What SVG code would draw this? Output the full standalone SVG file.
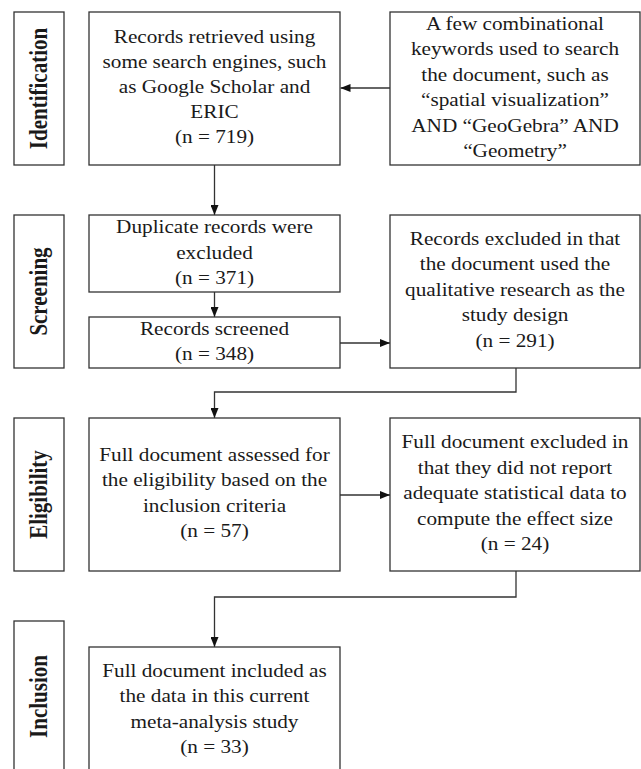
<svg xmlns="http://www.w3.org/2000/svg" width="641" height="769" viewBox="0 0 641 769">
<style>
.box{fill:#fff;stroke:#333;stroke-width:1.3}
.t{font-family:"Liberation Serif","Times New Roman",serif;font-size:18px;fill:#1a1a1a;text-anchor:middle}
.lbl{font-family:"Liberation Serif","Times New Roman",serif;font-size:21px;font-weight:bold;fill:#1a1a1a;text-anchor:middle}
.c{fill:none;stroke:#333;stroke-width:1.3}
</style>
<defs>
<marker id="ah" markerUnits="userSpaceOnUse" markerWidth="10" markerHeight="8" refX="10" refY="4" orient="auto">
<path d="M0,0 L10,4 L0,8 z" fill="#111"/>
</marker>
</defs>
<rect width="641" height="769" fill="#fff"/>
<g id="connectors">
<path class="c" d="M214.5,165 V215" marker-end="url(#ah)"/>
<path class="c" d="M390,88 H340.5" marker-end="url(#ah)"/>
<path class="c" d="M214.5,292 V317" marker-end="url(#ah)"/>
<path class="c" d="M340,343 H390" marker-end="url(#ah)"/>
<path class="c" d="M516,368 V392 H214.5 V418" marker-end="url(#ah)"/>
<path class="c" d="M340,495 H390" marker-end="url(#ah)"/>
<path class="c" d="M516,571 V597 H214.5 V647" marker-end="url(#ah)"/>
</g>
<g id="label-identification">
<rect class="box" x="14" y="12" width="50" height="153"/>
<text class="lbl" transform="translate(39 88.5) scale(1.18 1) rotate(-90)" x="0" y="6.9">Identification</text>
</g>
<g id="label-screening">
<rect class="box" x="14" y="215" width="50" height="153"/>
<text class="lbl" transform="translate(39 291.5) scale(1.18 1) rotate(-90)" x="0" y="6.9">Screening</text>
</g>
<g id="label-eligibility">
<rect class="box" x="14" y="418" width="50" height="153"/>
<text class="lbl" transform="translate(39 494.5) scale(1.18 1) rotate(-90)" x="0" y="6.9">Eligibility</text>
</g>
<g id="label-inclusion">
<rect class="box" x="14" y="621" width="50" height="170"/>
<text class="lbl" transform="translate(39 696.5) scale(1.18 1) rotate(-90)" x="0" y="6.9">Inclusion</text>
</g>
<g id="records-retrieved">
<rect class="box" x="89" y="12" width="251" height="153"/>
<text class="t" transform="translate(214.5 0) scale(1.18 1)"><tspan x="0" y="43">Records retrieved using</tspan><tspan x="0" y="68">some search engines, such</tspan><tspan x="0" y="93">as Google Scholar and</tspan><tspan x="0" y="118">ERIC</tspan><tspan x="0" y="143">(n = 719)</tspan></text>
</g>
<g id="keywords">
<rect class="box" x="390" y="12" width="250" height="153"/>
<text class="t" transform="translate(515 0) scale(1.18 1)"><tspan x="0" y="30">A few combinational</tspan><tspan x="0" y="55.4">keywords used to search</tspan><tspan x="0" y="80.8">the document, such as</tspan><tspan x="0" y="106.2">“spatial visualization”</tspan><tspan x="0" y="131.6">AND “GeoGebra” AND</tspan><tspan x="0" y="157">“Geometry”</tspan></text>
</g>
<g id="duplicates">
<rect class="box" x="89" y="215" width="251" height="77"/>
<text class="t" transform="translate(214.5 0) scale(1.18 1)"><tspan x="0" y="233.5">Duplicate records were</tspan><tspan x="0" y="259">excluded</tspan><tspan x="0" y="284.5">(n = 371)</tspan></text>
</g>
<g id="screened">
<rect class="box" x="89" y="317" width="251" height="51"/>
<text class="t" transform="translate(214.5 0) scale(1.18 1)"><tspan x="0" y="335">Records screened</tspan><tspan x="0" y="360">(n = 348)</tspan></text>
</g>
<g id="excluded-qualitative">
<rect class="box" x="390" y="215" width="250" height="153"/>
<text class="t" transform="translate(515 0) scale(1.18 1)"><tspan x="0" y="245">Records excluded in that</tspan><tspan x="0" y="270.4">the document used the</tspan><tspan x="0" y="295.8">qualitative research as the</tspan><tspan x="0" y="321.2">study design</tspan><tspan x="0" y="346.6">(n = 291)</tspan></text>
</g>
<g id="assessed">
<rect class="box" x="89" y="418" width="251" height="153"/>
<text class="t" transform="translate(214.5 0) scale(1.18 1)"><tspan x="0" y="461">Full document assessed for</tspan><tspan x="0" y="486.5">the eligibility based on the</tspan><tspan x="0" y="512">inclusion criteria</tspan><tspan x="0" y="537.5">(n = 57)</tspan></text>
</g>
<g id="excluded-statistics">
<rect class="box" x="390" y="418" width="250" height="153"/>
<text class="t" transform="translate(515 0) scale(1.18 1)"><tspan x="0" y="448.5">Full document excluded in</tspan><tspan x="0" y="474">that they did not report</tspan><tspan x="0" y="499.5">adequate statistical data to</tspan><tspan x="0" y="525">compute the effect size</tspan><tspan x="0" y="550.5">(n = 24)</tspan></text>
</g>
<g id="included">
<rect class="box" x="89" y="647" width="251" height="140"/>
<text class="t" transform="translate(214.5 0) scale(1.18 1)"><tspan x="0" y="677">Full document included as</tspan><tspan x="0" y="702.5">the data in this current</tspan><tspan x="0" y="728">meta-analysis study</tspan><tspan x="0" y="753.5">(n = 33)</tspan></text>
</g>
</svg>
